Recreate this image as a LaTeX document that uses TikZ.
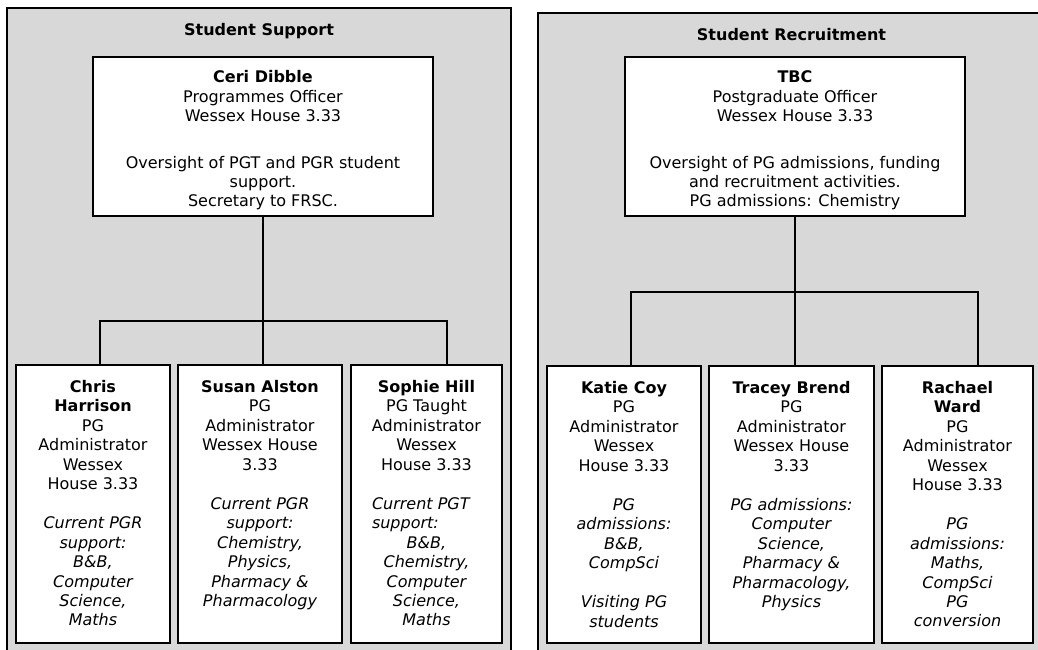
\documentclass[tikz,border=0pt]{standalone}
\usepackage{fontspec}
\setmainfont{DejaVu Sans}
\definecolor{panelgray}{RGB}{216,216,216}
\tikzset{
  panel/.style={draw=black, line width=2pt, fill=panelgray},
  card/.style={draw=black, line width=2pt, fill=white, inner sep=0pt, outer sep=0pt, anchor=north west, font=\fontsize{16}{19.4}\selectfont},
  conn/.style={draw=black, line width=1.8pt},
  paneltitle/.style={font=\fontsize{16}{19.4}\selectfont\bfseries, anchor=base, inner sep=0pt}
}
\newcommand{\cardbody}[4]{\parbox[t][#2][t]{#1}{\centering\rule{0pt}{#3}#4}}
\begin{document}
\begin{tikzpicture}[x=1pt,y=-1pt]
\useasboundingbox (0,0) rectangle (1038,650);
\clip (0,0) rectangle (1038,650);
% panels
\draw[panel] (7,8) rectangle (511,690);
\draw[panel] (538,13) rectangle (1060,690);
\node[paneltitle] (ssTitle) at (259,35.5) {Student Support};
\node[paneltitle] (srTitle) at (791.5,40.5) {Student Recruitment};
% top boxes
\node[card] (ceri) at (93,57) {\cardbody{340pt}{159pt}{26pt}{\textbf{Ceri Dibble}\\Programmes Officer\\Wessex House 3.33\\[27pt]Oversight of PGT and PGR student\\support.\\Secretary to FRSC.}};
\node[card] (tbc) at (625,57) {\cardbody{340pt}{159pt}{26pt}{\textbf{TBC}\\Postgraduate Officer\\Wessex House 3.33\\[27pt]Oversight of PG admissions, funding\\and recruitment activities.\\PG admissions: Chemistry}};
% left children
\node[card] (chris) at (16,365) {\cardbody{154pt}{278pt}{27.5pt}{\textbf{Chris}\\\textbf{Harrison}\\PG\\Administrator\\Wessex\\House 3.33\\[19.9pt]\itshape Current PGR\\support:\\B\&B,\\Computer\\Science,\\Maths}};
\node[card] (susan) at (178,365) {\cardbody{164pt}{278pt}{27.5pt}{\textbf{Susan Alston}\\PG\\Administrator\\Wessex House\\3.33\\[19.9pt]\itshape Current PGR\\support:\\Chemistry,\\Physics,\\Pharmacy \&\\Pharmacology}};
\node[card] (sophie) at (351,365) {\cardbody{151pt}{278pt}{27.5pt}{\textbf{Sophie Hill}\\PG Taught\\Administrator\\Wessex\\House 3.33\\[19.9pt]\itshape\makebox[151pt][l]{\hspace{21pt}Current PGT}\\\makebox[151pt][l]{\hspace{21pt}support:}\\B\&B,\\Chemistry,\\Computer\\Science,\\Maths}};
% right children
\node[card] (katie) at (547,366) {\cardbody{154pt}{277pt}{27.5pt}{\textbf{Katie Coy}\\PG\\Administrator\\Wessex\\House 3.33\\[19.9pt]\itshape PG\\admissions:\\B\&B,\\CompSci\\[19.9pt]Visiting PG\\students}};
\node[card] (tracey) at (709,366) {\cardbody{165pt}{277pt}{27.5pt}{\textbf{Tracey Brend}\\PG\\Administrator\\Wessex House\\3.33\\[19.9pt]\itshape PG admissions:\\Computer\\Science,\\Pharmacy \&\\Pharmacology,\\Physics}};
\node[card] (rachael) at (882,366) {\cardbody{151pt}{277pt}{27.5pt}{\textbf{Rachael}\\\textbf{Ward}\\PG\\Administrator\\Wessex\\House 3.33\\[19.9pt]\itshape PG\\admissions:\\Maths,\\CompSci\\PG\\conversion}};
% connectors left
\coordinate (sL) at (100,321);
\coordinate (sR) at (447,321);
\draw[conn] (ceri.south) -- (ceri.south |- susan.north);
\draw[conn] (sL |- chris.north) -- (sL) -- (sR) -- (sR |- sophie.north);
% connectors right
\coordinate (rL) at (631,292);
\coordinate (rR) at (978,292);
\draw[conn] (tbc.south) -- (tbc.south |- tracey.north);
\draw[conn] (rL |- katie.north) -- (rL) -- (rR) -- (rR |- rachael.north);
\end{tikzpicture}
\end{document}
